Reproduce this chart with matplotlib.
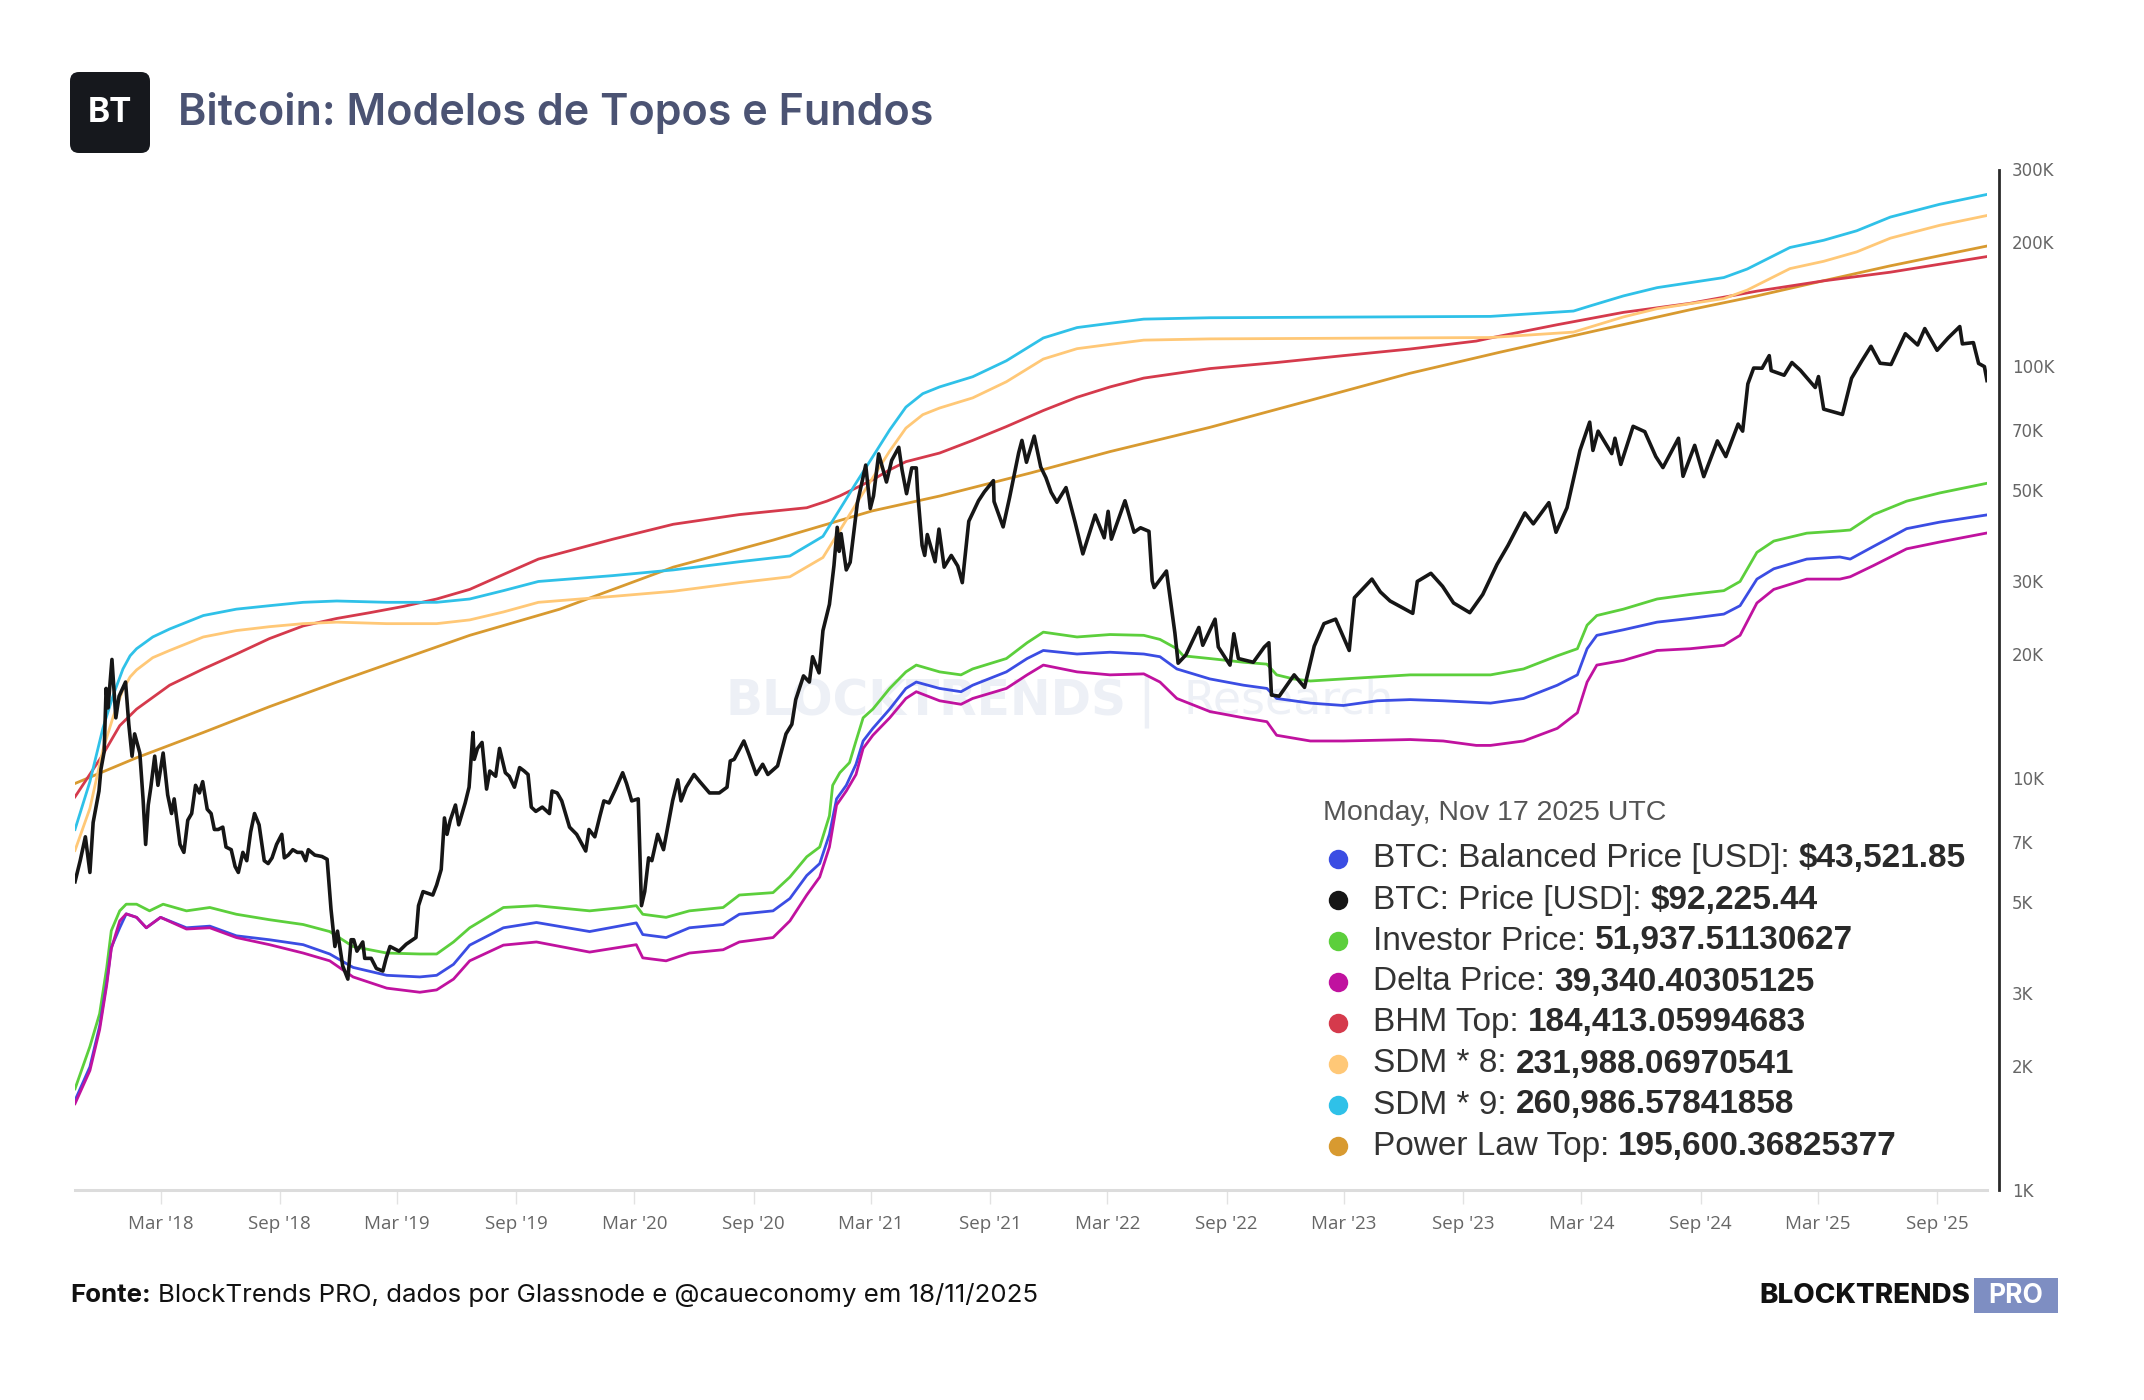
import matplotlib
matplotlib.use("Agg")
import matplotlib.pyplot as plt
import matplotlib.dates as mdates
from matplotlib.transforms import IdentityTransform
from matplotlib.patches import FancyBboxPatch, Rectangle
from matplotlib.lines import Line2D
from matplotlib.ticker import FixedLocator, FuncFormatter, NullLocator
import pandas as pd

# ---- data (date, USD) ----
price = [
    ("2017-10-20", 5600), ("2017-10-28", 6300), ("2017-11-05", 7200), ("2017-11-12", 5900),
    ("2017-11-17", 7800), ("2017-11-26", 9300), ("2017-11-29", 10500), ("2017-12-04", 11600),
    ("2017-12-07", 16500), ("2017-12-10", 14800), ("2017-12-16", 19400), ("2017-12-22", 14000),
    ("2017-12-27", 15800), ("2018-01-06", 17100), ("2018-01-11", 13500), ("2018-01-16", 11300),
    ("2018-01-20", 12800), ("2018-01-28", 11500), ("2018-02-02", 8900), ("2018-02-06", 6900),
    ("2018-02-10", 8600), ("2018-02-14", 9500), ("2018-02-20", 11300), ("2018-02-25", 9600),
    ("2018-03-05", 11500), ("2018-03-12", 9100), ("2018-03-18", 8200), ("2018-03-22", 8900),
    ("2018-03-31", 6900), ("2018-04-06", 6600), ("2018-04-12", 7900), ("2018-04-18", 8200),
    ("2018-04-24", 9600), ("2018-04-30", 9200), ("2018-05-05", 9800), ("2018-05-12", 8400),
    ("2018-05-18", 8200), ("2018-05-23", 7500), ("2018-05-29", 7500), ("2018-06-05", 7600),
    ("2018-06-10", 6800), ("2018-06-18", 6700), ("2018-06-24", 6100), ("2018-06-29", 5900),
    ("2018-07-06", 6600), ("2018-07-12", 6300), ("2018-07-18", 7400), ("2018-07-24", 8200),
    ("2018-07-31", 7700), ("2018-08-08", 6300), ("2018-08-14", 6200), ("2018-08-20", 6400),
    ("2018-08-27", 6900), ("2018-09-04", 7300), ("2018-09-08", 6400), ("2018-09-14", 6500),
    ("2018-09-21", 6700), ("2018-09-28", 6600), ("2018-10-05", 6600), ("2018-10-11", 6300),
    ("2018-10-15", 6700), ("2018-10-25", 6500), ("2018-11-05", 6450), ("2018-11-13", 6350),
    ("2018-11-19", 4800), ("2018-11-25", 3900), ("2018-11-29", 4250), ("2018-12-07", 3500),
    ("2018-12-15", 3250), ("2018-12-20", 4050), ("2018-12-24", 4050), ("2018-12-29", 3800),
    ("2019-01-07", 4000), ("2019-01-10", 3650), ("2019-01-20", 3650), ("2019-01-28", 3450),
    ("2019-02-07", 3400), ("2019-02-12", 3650), ("2019-02-18", 3900), ("2019-03-04", 3800),
    ("2019-03-15", 3950), ("2019-03-30", 4100), ("2019-04-03", 4900), ("2019-04-10", 5300),
    ("2019-04-25", 5200), ("2019-05-01", 5500), ("2019-05-08", 6000), ("2019-05-13", 8000),
    ("2019-05-17", 7300), ("2019-05-22", 7900), ("2019-05-30", 8600), ("2019-06-04", 7700),
    ("2019-06-14", 8700), ("2019-06-20", 9500), ("2019-06-26", 12900), ("2019-06-28", 11100),
    ("2019-07-03", 11800), ("2019-07-10", 12200), ("2019-07-17", 9400), ("2019-07-22", 10400),
    ("2019-07-31", 10100), ("2019-08-06", 11800), ("2019-08-15", 10300), ("2019-08-21", 10100),
    ("2019-08-29", 9500), ("2019-09-06", 10600), ("2019-09-13", 10400), ("2019-09-19", 10200),
    ("2019-09-24", 8500), ("2019-10-01", 8300), ("2019-10-11", 8500), ("2019-10-22", 8200),
    ("2019-10-26", 9300), ("2019-11-03", 9200), ("2019-11-10", 8800), ("2019-11-22", 7600),
    ("2019-12-03", 7300), ("2019-12-17", 6650), ("2019-12-22", 7500), ("2019-12-31", 7200),
    ("2020-01-08", 8100), ("2020-01-14", 8800), ("2020-01-22", 8700), ("2020-02-01", 9400),
    ("2020-02-12", 10300), ("2020-02-18", 9700), ("2020-02-26", 8800), ("2020-03-07", 8900),
    ("2020-03-12", 4900), ("2020-03-17", 5300), ("2020-03-23", 6400), ("2020-03-28", 6300),
    ("2020-04-06", 7300), ("2020-04-15", 6700), ("2020-04-29", 8800), ("2020-05-07", 9900),
    ("2020-05-12", 8800), ("2020-05-20", 9500), ("2020-06-01", 10200), ("2020-06-10", 9800),
    ("2020-06-25", 9200), ("2020-07-10", 9200), ("2020-07-22", 9500), ("2020-07-27", 11000),
    ("2020-08-02", 11100), ("2020-08-17", 12300), ("2020-08-25", 11400), ("2020-09-05", 10200),
    ("2020-09-15", 10800), ("2020-09-23", 10200), ("2020-10-08", 10700), ("2020-10-21", 12800),
    ("2020-10-30", 13500), ("2020-11-05", 15500), ("2020-11-17", 17700), ("2020-11-26", 17100),
    ("2020-12-01", 19700), ("2020-12-11", 18000), ("2020-12-17", 22800), ("2020-12-27", 26400),
    ("2021-01-03", 32800), ("2021-01-08", 40600), ("2021-01-11", 35500), ("2021-01-14", 39200),
    ("2021-01-22", 32000), ("2021-01-28", 33400), ("2021-02-08", 46400), ("2021-02-21", 57500),
    ("2021-02-28", 45100), ("2021-03-05", 48400), ("2021-03-13", 61200), ("2021-03-25", 52300),
    ("2021-04-02", 59000), ("2021-04-13", 63500), ("2021-04-18", 56000), ("2021-04-25", 49000),
    ("2021-05-03", 56600), ("2021-05-10", 56600), ("2021-05-12", 49700), ("2021-05-19", 36700),
    ("2021-05-23", 34700), ("2021-05-27", 39000), ("2021-06-08", 33500), ("2021-06-14", 40200),
    ("2021-06-22", 32500), ("2021-07-03", 34700), ("2021-07-13", 32700), ("2021-07-20", 29800),
    ("2021-07-30", 42000), ("2021-08-14", 47100), ("2021-08-23", 49500), ("2021-09-06", 52700),
    ("2021-09-07", 46900), ("2021-09-21", 40700), ("2021-10-01", 48000), ("2021-10-15", 61600),
    ("2021-10-20", 66000), ("2021-10-27", 58400), ("2021-11-08", 67600), ("2021-11-18", 56900),
    ("2021-11-26", 53600), ("2021-12-04", 49400), ("2021-12-13", 46700), ("2021-12-27", 50700),
    ("2022-01-10", 41800), ("2022-01-22", 35000), ("2022-02-10", 43500), ("2022-02-24", 38300),
    ("2022-03-02", 44400), ("2022-03-07", 38000), ("2022-03-28", 47100), ("2022-04-11", 39500),
    ("2022-04-21", 40500), ("2022-05-04", 39700), ("2022-05-09", 30100), ("2022-05-12", 29000),
    ("2022-05-31", 31800), ("2022-06-13", 22500), ("2022-06-18", 19000), ("2022-06-30", 19900),
    ("2022-07-20", 23200), ("2022-07-26", 21000), ("2022-08-14", 24300), ("2022-08-19", 20800),
    ("2022-09-06", 18800), ("2022-09-12", 22400), ("2022-09-19", 19500), ("2022-10-12", 19100),
    ("2022-10-29", 20800), ("2022-11-05", 21300), ("2022-11-09", 15900), ("2022-11-21", 15800),
    ("2022-12-05", 17000), ("2022-12-14", 17800), ("2022-12-30", 16600), ("2023-01-14", 20900),
    ("2023-01-29", 23700), ("2023-02-16", 24300), ("2023-03-09", 20400), ("2023-03-17", 27400),
    ("2023-04-13", 30400), ("2023-04-26", 28300), ("2023-05-11", 26900), ("2023-06-15", 25100),
    ("2023-06-22", 30000), ("2023-07-13", 31400), ("2023-07-31", 29200), ("2023-08-17", 26600),
    ("2023-09-11", 25200), ("2023-10-01", 27900), ("2023-10-23", 33000), ("2023-11-09", 36700),
    ("2023-12-05", 44000), ("2023-12-18", 41400), ("2024-01-11", 46600), ("2024-01-22", 39500),
    ("2024-02-08", 45300), ("2024-02-28", 62400), ("2024-03-14", 73100), ("2024-03-19", 62400),
    ("2024-03-27", 69500), ("2024-04-17", 61300), ("2024-04-22", 66800), ("2024-05-01", 57700),
    ("2024-05-20", 71400), ("2024-06-07", 69300), ("2024-06-24", 60300), ("2024-07-05", 56700),
    ("2024-07-29", 66800), ("2024-08-05", 54000), ("2024-08-23", 64200), ("2024-09-06", 53900),
    ("2024-09-27", 65800), ("2024-10-10", 60300), ("2024-10-29", 72300), ("2024-11-05", 69500),
    ("2024-11-13", 90500), ("2024-11-22", 98900), ("2024-12-05", 98800), ("2024-12-16", 106000),
    ("2024-12-19", 97500), ("2025-01-08", 95000), ("2025-01-20", 102000), ("2025-02-02", 97700),
    ("2025-02-25", 88700), ("2025-03-02", 94300), ("2025-03-10", 78600), ("2025-04-08", 76300),
    ("2025-04-22", 93400), ("2025-05-08", 103000), ("2025-05-22", 111700), ("2025-06-05", 101600),
    ("2025-06-22", 100900), ("2025-07-14", 119800), ("2025-08-02", 112500), ("2025-08-13", 123300),
    ("2025-09-01", 109200), ("2025-09-18", 117000), ("2025-10-06", 124700), ("2025-10-10", 113200),
    ("2025-10-27", 114000), ("2025-11-04", 101500), ("2025-11-13", 99700), ("2025-11-17", 92225),
]

investor = [
    ("2017-10-20", 1760), ("2017-11-12", 2230), ("2017-11-27", 2680), ("2017-12-08", 3470),
    ("2017-12-15", 4260), ("2017-12-28", 4760), ("2018-01-07", 4940), ("2018-01-23", 4940),
    ("2018-02-12", 4760), ("2018-03-05", 4940), ("2018-04-10", 4760), ("2018-05-16", 4850),
    ("2018-06-26", 4670), ("2018-08-16", 4530), ("2018-10-07", 4410), ("2018-11-17", 4240),
    ("2018-12-23", 3900), ("2019-02-13", 3760), ("2019-04-05", 3740), ("2019-05-01", 3740),
    ("2019-05-27", 4000), ("2019-06-21", 4330), ("2019-08-12", 4850), ("2019-10-02", 4900),
    ("2019-12-23", 4760), ("2020-02-12", 4850), ("2020-03-04", 4900), ("2020-03-14", 4670),
    ("2020-04-19", 4590), ("2020-05-25", 4760), ("2020-07-16", 4850), ("2020-08-10", 5200),
    ("2020-10-01", 5270), ("2020-10-27", 5750), ("2020-11-22", 6440), ("2020-12-12", 6800),
    ("2020-12-27", 8100), ("2021-01-01", 9600), ("2021-01-12", 10300), ("2021-01-27", 10900),
    ("2021-02-06", 12300), ("2021-02-17", 14000), ("2021-03-04", 14700), ("2021-03-30", 16500),
    ("2021-04-24", 18100), ("2021-05-10", 18800), ("2021-06-15", 18100), ("2021-07-18", 17800),
    ("2021-08-05", 18400), ("2021-09-26", 19500), ("2021-10-28", 21300), ("2021-11-22", 22600),
    ("2022-01-13", 22000), ("2022-03-05", 22300), ("2022-04-26", 22200), ("2022-05-21", 21700),
    ("2022-06-16", 20600), ("2022-06-26", 19800), ("2022-08-06", 19500), ("2022-09-27", 19100),
    ("2022-11-02", 18900), ("2022-11-17", 17800), ("2022-12-13", 17400), ("2023-01-08", 17200),
    ("2023-02-28", 17400), ("2023-06-11", 17800), ("2023-10-13", 17800), ("2023-12-03", 18400),
    ("2024-01-24", 19800), ("2024-02-24", 20600), ("2024-03-10", 23500), ("2024-03-25", 24800),
    ("2024-05-05", 25700), ("2024-06-26", 27200), ("2024-08-16", 27900), ("2024-10-07", 28500),
    ("2024-11-01", 30000), ("2024-11-27", 35300), ("2024-12-23", 37600), ("2025-02-12", 39300),
    ("2025-04-04", 39800), ("2025-04-20", 40000), ("2025-05-26", 43600), ("2025-07-16", 47000),
    ("2025-09-05", 49200), ("2025-11-17", 51938),
]

balanced = [
    ("2017-10-20", 1650), ("2017-11-12", 1990), ("2017-11-27", 2500), ("2017-12-08", 3200),
    ("2017-12-15", 3880), ("2017-12-28", 4330), ("2018-01-07", 4680), ("2018-01-23", 4590),
    ("2018-02-07", 4330), ("2018-03-01", 4590), ("2018-04-10", 4330), ("2018-05-16", 4370),
    ("2018-06-26", 4140), ("2018-08-16", 4050), ("2018-10-07", 3940), ("2018-11-17", 3740),
    ("2018-12-23", 3470), ("2019-02-13", 3320), ("2019-04-05", 3290), ("2019-05-01", 3320),
    ("2019-05-27", 3530), ("2019-06-21", 3930), ("2019-08-12", 4330), ("2019-10-02", 4460),
    ("2019-12-23", 4240), ("2020-03-04", 4450), ("2020-03-14", 4170), ("2020-04-19", 4100),
    ("2020-05-25", 4330), ("2020-07-16", 4410), ("2020-08-10", 4670), ("2020-10-01", 4760),
    ("2020-10-27", 5100), ("2020-11-22", 5800), ("2020-12-12", 6200), ("2020-12-27", 7300),
    ("2021-01-07", 8900), ("2021-01-22", 9600), ("2021-02-06", 10800), ("2021-02-17", 12300),
    ("2021-03-04", 13200), ("2021-03-30", 14700), ("2021-04-24", 16500), ("2021-05-10", 17100),
    ("2021-06-15", 16500), ("2021-07-18", 16200), ("2021-08-05", 16800), ("2021-09-26", 18100),
    ("2021-10-28", 19500), ("2021-11-22", 20400), ("2022-01-13", 20000), ("2022-03-05", 20200),
    ("2022-04-26", 20000), ("2022-05-21", 19700), ("2022-06-16", 18400), ("2022-08-06", 17400),
    ("2022-09-27", 16800), ("2022-11-02", 16500), ("2022-11-17", 15600), ("2023-01-08", 15200),
    ("2023-02-28", 15000), ("2023-04-21", 15400), ("2023-06-11", 15500), ("2023-08-01", 15400),
    ("2023-10-13", 15200), ("2023-12-03", 15600), ("2024-01-24", 16800), ("2024-02-24", 17800),
    ("2024-03-10", 20600), ("2024-03-25", 22200), ("2024-05-05", 22900), ("2024-06-26", 23900),
    ("2024-08-16", 24400), ("2024-10-07", 25000), ("2024-11-01", 26200), ("2024-11-27", 30400),
    ("2024-12-23", 32200), ("2025-02-12", 34000), ("2025-04-04", 34400), ("2025-04-20", 34000),
    ("2025-05-26", 36500), ("2025-07-16", 40300), ("2025-09-05", 41800), ("2025-11-17", 43522),
]

delta = [
    ("2017-10-20", 1620), ("2017-11-12", 1950), ("2017-11-27", 2450), ("2017-12-08", 3150),
    ("2017-12-15", 3850), ("2017-12-28", 4500), ("2018-01-07", 4680), ("2018-01-23", 4590),
    ("2018-02-07", 4330), ("2018-03-01", 4590), ("2018-04-10", 4300), ("2018-05-16", 4330),
    ("2018-06-26", 4100), ("2018-08-16", 3940), ("2018-10-07", 3760), ("2018-11-17", 3600),
    ("2018-12-23", 3290), ("2019-02-13", 3090), ("2019-04-05", 3020), ("2019-05-01", 3060),
    ("2019-05-27", 3250), ("2019-06-21", 3600), ("2019-08-12", 3930), ("2019-10-02", 4000),
    ("2019-12-23", 3780), ("2020-03-04", 3940), ("2020-03-14", 3660), ("2020-04-19", 3600),
    ("2020-05-25", 3760), ("2020-07-16", 3830), ("2020-08-10", 4000), ("2020-10-01", 4100),
    ("2020-10-27", 4500), ("2020-11-22", 5200), ("2020-12-12", 5750), ("2020-12-27", 6800),
    ("2021-01-07", 8600), ("2021-01-22", 9300), ("2021-02-06", 10200), ("2021-02-17", 11800),
    ("2021-03-04", 12700), ("2021-03-30", 14000), ("2021-04-24", 15600), ("2021-05-10", 16200),
    ("2021-06-15", 15400), ("2021-07-18", 15100), ("2021-08-05", 15600), ("2021-09-26", 16500),
    ("2021-10-28", 17800), ("2021-11-22", 18800), ("2022-01-13", 18100), ("2022-03-05", 17800),
    ("2022-04-26", 17900), ("2022-05-21", 17100), ("2022-06-16", 15600), ("2022-08-06", 14500),
    ("2022-09-27", 14000), ("2022-11-02", 13700), ("2022-11-17", 12700), ("2023-01-08", 12300),
    ("2023-02-28", 12300), ("2023-06-11", 12400), ("2023-08-01", 12300), ("2023-09-21", 12000),
    ("2023-10-13", 12000), ("2023-12-03", 12300), ("2024-01-24", 13200), ("2024-02-24", 14400),
    ("2024-03-10", 17100), ("2024-03-25", 18800), ("2024-05-05", 19300), ("2024-06-26", 20400),
    ("2024-08-16", 20600), ("2024-10-07", 21000), ("2024-11-01", 22200), ("2024-11-27", 26600),
    ("2024-12-23", 28700), ("2025-02-12", 30400), ("2025-04-04", 30400), ("2025-04-20", 30800),
    ("2025-05-26", 32800), ("2025-07-16", 36000), ("2025-09-05", 37400), ("2025-11-17", 39340),
]

bhm_top = [
    ("2017-10-20", 9000), ("2017-12-02", 11400), ("2017-12-28", 13400), ("2018-01-23", 14700),
    ("2018-03-15", 16800), ("2018-05-06", 18400), ("2018-06-26", 20000), ("2018-08-16", 21800),
    ("2018-10-07", 23400), ("2018-11-28", 24400), ("2019-01-18", 25200), ("2019-03-11", 26100),
    ("2019-05-01", 27200), ("2019-06-21", 28700), ("2019-08-12", 31200), ("2019-10-05", 34000),
    ("2020-01-28", 38000), ("2020-04-30", 41300), ("2020-08-10", 43600), ("2020-11-22", 45300),
    ("2020-12-23", 47000), ("2021-01-12", 48400), ("2021-02-06", 50600), ("2021-03-04", 53000),
    ("2021-03-30", 56000), ("2021-04-24", 58600), ("2021-06-15", 61500), ("2021-08-05", 66000),
    ("2021-09-26", 71300), ("2021-11-22", 78000), ("2022-01-13", 84000), ("2022-03-05", 89000),
    ("2022-04-26", 93500), ("2022-08-06", 98600), ("2022-11-17", 102000), ("2023-02-28", 106000),
    ("2023-06-11", 110000), ("2023-09-21", 115000), ("2023-10-13", 117000), ("2024-01-24", 126000),
    ("2024-05-05", 135000), ("2024-08-16", 142000), ("2024-11-27", 152000), ("2025-03-10", 161000),
    ("2025-06-21", 169000), ("2025-11-17", 184413),
]

sdm9 = [
    ("2017-10-20", 7500), ("2017-11-12", 9800), ("2017-12-02", 13200), ("2017-12-18", 15900),
    ("2018-01-02", 18400), ("2018-01-13", 19800), ("2018-01-23", 20600), ("2018-02-17", 22000),
    ("2018-03-15", 23000), ("2018-05-06", 24800), ("2018-06-26", 25700), ("2018-08-16", 26200),
    ("2018-10-07", 26700), ("2018-11-28", 26900), ("2019-02-13", 26700), ("2019-05-01", 26700),
    ("2019-06-21", 27200), ("2019-08-12", 28500), ("2019-10-05", 30000), ("2020-01-28", 31000),
    ("2020-04-30", 32000), ("2020-08-10", 33500), ("2020-10-27", 34600), ("2020-12-17", 38600),
    ("2021-01-12", 44900), ("2021-02-06", 52000), ("2021-03-04", 60300), ("2021-03-30", 70000),
    ("2021-04-24", 79500), ("2021-05-20", 85700), ("2021-06-15", 89000), ("2021-08-05", 94200),
    ("2021-09-26", 103000), ("2021-11-22", 117000), ("2022-01-13", 124000), ("2022-03-05", 127000),
    ("2022-04-26", 130000), ("2022-08-06", 131000), ("2023-10-13", 132000), ("2024-02-18", 136000),
    ("2024-03-15", 140000), ("2024-05-05", 148000), ("2024-06-26", 155000), ("2024-10-07", 164000),
    ("2024-11-12", 172000), ("2025-01-17", 194000), ("2025-03-10", 202000), ("2025-04-30", 213000),
    ("2025-06-21", 230000), ("2025-09-05", 247000), ("2025-11-17", 260987),
]

sdm8 = [
    ("2017-10-20", 6670), ("2017-11-12", 8440), ("2017-12-02", 11700), ("2017-12-18", 14100),
    ("2018-01-02", 16400), ("2018-01-13", 17600), ("2018-01-23", 18300), ("2018-02-17", 19600),
    ("2018-03-15", 20400), ("2018-05-06", 22000), ("2018-06-26", 22800), ("2018-08-16", 23300),
    ("2018-10-07", 23700), ("2018-11-28", 23900), ("2019-02-13", 23700), ("2019-05-01", 23700),
    ("2019-06-21", 24200), ("2019-08-12", 25300), ("2019-10-05", 26700), ("2020-01-28", 27600),
    ("2020-04-30", 28400), ("2020-08-10", 29800), ("2020-10-27", 30800), ("2020-12-17", 34300),
    ("2021-01-12", 39900), ("2021-02-06", 46200), ("2021-03-04", 53600), ("2021-03-30", 62200),
    ("2021-04-24", 70700), ("2021-05-20", 76200), ("2021-06-15", 79100), ("2021-08-05", 83700),
    ("2021-09-26", 91600), ("2021-11-22", 104000), ("2022-01-13", 110200), ("2022-03-05", 112900),
    ("2022-04-26", 115600), ("2022-08-06", 116400), ("2023-10-13", 117300), ("2024-02-18", 120900),
    ("2024-03-15", 124400), ("2024-05-05", 131600), ("2024-06-26", 137800), ("2024-10-07", 145800),
    ("2024-11-12", 152900), ("2025-01-17", 172400), ("2025-03-10", 179600), ("2025-04-30", 189300),
    ("2025-06-21", 204400), ("2025-09-05", 219600), ("2025-11-17", 231988),
]

power_law = [
    ("2017-10-20", 9700), ("2018-01-23", 11200), ("2018-05-06", 12900), ("2018-08-16", 14900),
    ("2018-11-28", 17100), ("2019-03-11", 19500), ("2019-06-21", 22200), ("2019-11-07", 25700),
    ("2020-04-30", 32500), ("2020-10-01", 37800), ("2021-03-03", 44500), ("2021-06-16", 48400),
    ("2021-11-02", 55000), ("2022-03-05", 62000), ("2022-08-06", 71000), ("2023-01-07", 82500),
    ("2023-06-10", 96000), ("2023-10-27", 108000), ("2024-03-15", 121000), ("2024-08-16", 137000),
    ("2024-11-27", 148000), ("2025-03-09", 161000), ("2025-06-20", 175000), ("2025-11-17", 195600),
]

legend_rows = [
    ("#3b4de3", "BTC: Balanced Price [USD]:", "$43,521.85"),
    ("#161616", "BTC: Price [USD]:", "$92,225.44"),
    ("#5ccf3c", "Investor Price:", "51,937.51130627"),
    ("#c0129f", "Delta Price:", "39,340.40305125"),
    ("#d53a4c", "BHM Top:", "184,413.05994683"),
    ("#ffc877", "SDM * 8:", "231,988.06970541"),
    ("#2fc1e8", "SDM * 9:", "260,986.57841858"),
    ("#d89a30", "Power Law Top:", "195,600.36825377"),
]

y_ticks = [1000, 2000, 3000, 5000, 7000, 10000, 20000, 30000, 50000, 70000, 100000, 200000, 300000]
y_labels = ["1K", "2K", "3K", "5K", "7K", "10K", "20K", "30K", "50K", "70K", "100K", "200K", "300K"]
x_ticks = [f"{y}-{m}-01" for y in range(2018, 2026) for m in ("03", "09")]

W, H = 2144, 1400
PX = IdentityTransform()


def series(pairs):
    return pd.to_datetime([p[0] for p in pairs]), [p[1] for p in pairs]


fig = plt.figure(figsize=(W / 100, H / 100), dpi=100)
ax = fig.add_axes([75 / W, 1 - 1190 / H, (1987 - 75) / W, (1190 - 169.5) / H])

lines = [
    (power_law, "#d89a30", 2.0),
    (bhm_top, "#d53a4c", 2.0),
    (sdm8, "#ffc877", 2.0),
    (sdm9, "#2fc1e8", 2.0),
    (investor, "#5ccf3c", 2.0),
    (balanced, "#3b4de3", 2.0),
    (delta, "#c0129f", 2.0),
    (price, "#161616", 2.6),
]
for data, col, lw in lines:
    d, v = series(data)
    ax.plot(d, v, color=col, lw=lw, solid_joinstyle="round")

ax.set_yscale("log")
ax.set_ylim(1000, 300000)
ax.set_xlim(pd.Timestamp("2017-10-20"), pd.Timestamp("2025-11-17"))

ax.yaxis.tick_right()
ax.yaxis.set_major_locator(FixedLocator(y_ticks))
ax.yaxis.set_minor_locator(NullLocator())
ax.set_yticklabels(y_labels)
ax.tick_params(axis="y", length=0, pad=9, labelsize=12, labelcolor="#666666")

xt = [mdates.date2num(pd.Timestamp(t)) for t in x_ticks]
ax.xaxis.set_major_locator(FixedLocator(xt))
ax.xaxis.set_minor_locator(NullLocator())
ax.xaxis.set_major_formatter(FuncFormatter(lambda x, p: mdates.num2date(x).strftime("%b '%y")))
ax.tick_params(axis="x", length=10, width=1.0, color="#e2e2e2", pad=8, labelsize=13.5,
               labelcolor="#666666")
for lab in ax.get_xticklabels():
    lab.set_family("Open Sans")

for s in ("top", "left"):
    ax.spines[s].set_visible(False)
ax.spines["bottom"].set_color("#dcdcdc")
ax.spines["bottom"].set_linewidth(2.2)
ax.spines["right"].set_color("#2a2a2a")
ax.spines["right"].set_linewidth(2.0)
ax.spines["right"].set_position(("outward", 9))

# watermark
ax.text(725, H - 701, "BLOCKTRENDS", transform=PX, fontsize=35, fontweight="bold",
        color="#edf0f6", va="center", ha="left", zorder=0.5)
ax.text(1146, H - 701, "|", transform=PX, fontsize=38, color="#edf0f6", va="center",
        ha="center", zorder=0.5)
ax.text(1183, H - 701, "Research", transform=PX, fontsize=33, color="#edf0f6", va="center",
        ha="left", zorder=0.5)

# header
logo = FancyBboxPatch((70, H - 153), 80, 81, boxstyle="round,pad=0,rounding_size=9",
                      transform=PX, fc="#16181d", ec="none")
fig.add_artist(logo)
fig.text(110, H - 113, "BT", transform=PX, fontsize=24, fontweight="bold", color="white",
         ha="center", va="center", family="Inter")
fig.text(178, H - 113, "Bitcoin: Modelos de Topos e Fundos", transform=PX, fontsize=31,
         fontweight="semibold", color="#4b5373", ha="left", va="center", family="Inter")

renderer = fig.canvas.get_renderer()


def two_part(x, y, a, b, size, fam, ca, cb, gap, wa="normal", wb="bold"):
    t = fig.text(x, y, a, transform=PX, fontsize=size, color=ca, va="center", ha="left",
                 family=fam, fontweight=wa)
    x1 = t.get_window_extent(renderer).x1
    fig.text(x1 + gap, y, b, transform=PX, fontsize=size, color=cb, va="center", ha="left",
             family=fam, fontweight=wb)


# legend box
fig.text(1323, H - 813, "Monday, Nov 17 2025 UTC", transform=PX, fontsize=20.5,
         color="#555555", va="center", ha="left", family="Liberation Sans")
for i, (col, lab, val) in enumerate(legend_rows):
    yy = H - (859 + 41 * i)
    fig.add_artist(Line2D([1338], [yy], transform=PX, marker="o", markersize=14,
                          color=col, markeredgewidth=0, linestyle="none"))
    two_part(1373, yy, lab, val, 24, "Liberation Sans", "#333333", "#2a2a2a", 9)

# footer
two_part(70, H - 1295, "Fonte:", "BlockTrends PRO, dados por Glassnode e @caueconomy em 18/11/2025",
         18.6, "Inter", "#111111", "#111111", 7, wa="bold", wb="normal")

fig.text(1970, H - 1296, "BLOCKTRENDS", transform=PX, fontsize=20, fontweight="heavy",
         color="#111111", va="center", ha="right", family="Inter")
fig.add_artist(Rectangle((1974, H - 1313), 84, 35, transform=PX, fc="#7e8ec2", ec="none"))
fig.text(2016, H - 1296, "PRO", transform=PX, fontsize=19, fontweight="bold", color="white",
         va="center", ha="center", family="Inter")

fig.savefig("out.png", dpi=100, facecolor="white")
